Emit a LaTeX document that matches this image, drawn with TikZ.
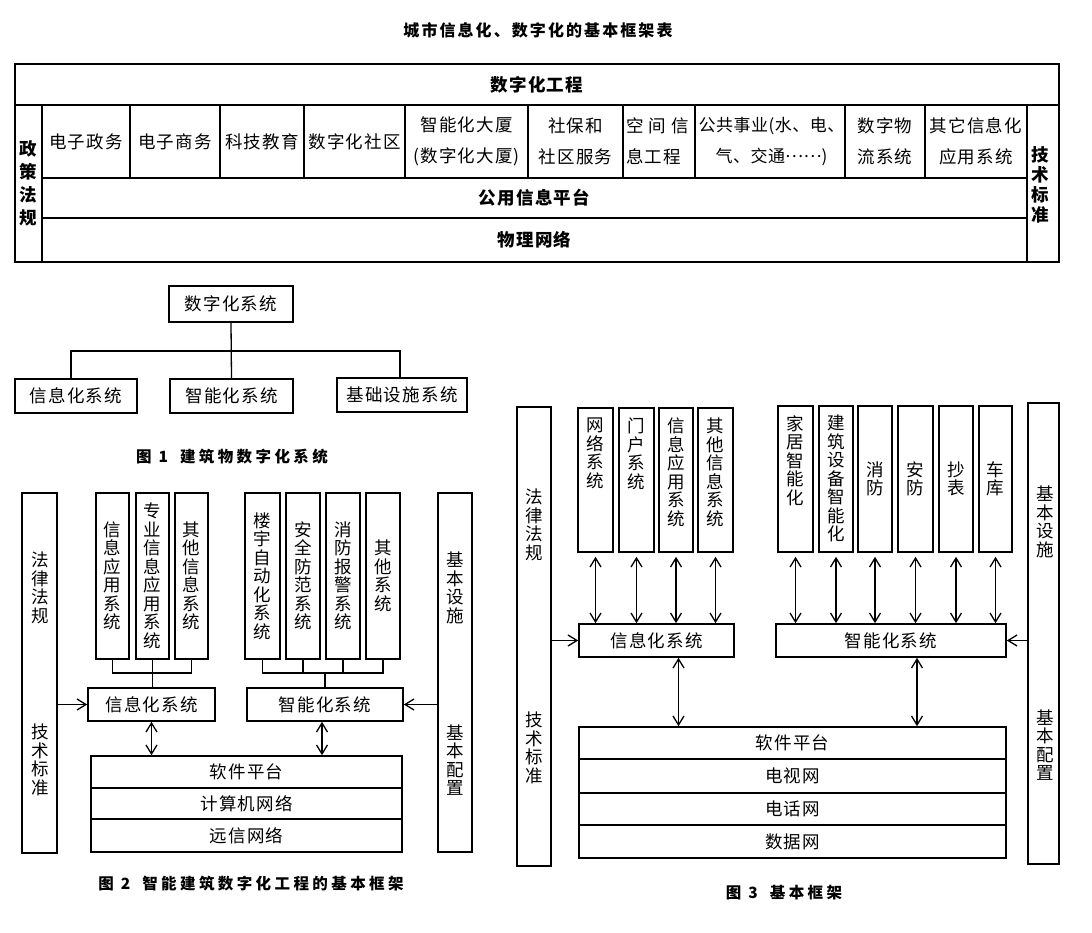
\documentclass[tikz,border=0pt]{standalone}
\usepackage{fontspec}
\usetikzlibrary{arrows.meta}
\newfontfamily\cjk[LetterSpace=7]{Noto Sans CJK SC}
\newfontfamily\cjktight[LetterSpace=3]{Noto Sans CJK SC}
\newfontfamily\cjkttl[LetterSpace=13]{Noto Sans CJK SC}
\newfontfamily\cjkcap[LetterSpace=22]{Noto Sans CJK SC}
\newcommand\bodystyle{\cjk\fontsize{17.5}{18.5}\selectfont}
\newcommand\cellstyle{\cjk\fontsize{17.5}{31}\selectfont}
\newcommand\headstyle{\cjk\bfseries\fontsize{17.5}{18.5}\selectfont}
\newcommand\titlestyle{\cjkttl\bfseries\fontsize{16}{18}\selectfont}
\newcommand\capstyle{\cjkcap\bfseries\fontsize{15.5}{18}\selectfont}
% box from corner (#2,#3) to corner (#4,#5), in pixels of the page
\newcommand\sysbox[6]{
  \node[box, minimum width={#4-#2}, minimum height={#5-#3}] (#1) at ({(#2+#4)/2}, {(#3+#5)/2}) {#6} ;
}
\tikzset{
  box/.style={draw, line width=1.6pt, inner sep=0pt, align=center, font=\bodystyle},
  vtext/.style={inner sep=0pt, align=center, font=\bodystyle},
  cell/.style={inner sep=0pt, align=center, font=\cellstyle},
  tblout/.style={line width=2.2pt},
  tblin/.style={line width=1.3pt},
  link/.style={line width=1.3pt},
  >={Straight Barb[length=9pt,width=11pt]},
}
\begin{document}
\begin{tikzpicture}[x=1pt, y=-1pt]
    \useasboundingbox (0,0) rectangle (1092,933) ;
    \node[font=\titlestyle] (title) at (538,30) {城市信息化、数字化的基本框架表} ;
    % table
    \draw[tblout] (15,64) rectangle (1059,262) ;
    \draw[tblin] (15,105) -- (1059,105) (42,105) -- (42,262) (1027,105) -- (1027,262) ;
    \draw[tblin] (42,178) -- (1027,178) (42,218) -- (1027,218) ;
    \foreach \xs in {130,220,304,405,528,623,695,845,925}
      \draw[tblin] (\xs,105) -- (\xs,178) ;
    \node[font=\headstyle] (proj) at (537,85) {数字化工程} ;
    \foreach \cx/\txt [count=\i] in {86/电子政务, 175/电子商务, 262/科技教育, 354.5/数字化社区,
        466.5/{智能化大厦\\(数字化大厦)}, 575.5/{社保和\\社区服务},
        885/{数字物\\流系统}, 976/{其它信息化\\应用系统}}
      \node[cell] (cell\i) at (\cx,141.5) {\txt} ;
    \node[cell, align=left, anchor=west] (space) at (626,141.5) {空\hspace{5pt}间\hspace{5pt}信\\息工程} ;
    \node[cell, font={\cjktight\fontsize{17}{31}\selectfont}] (utility) at (771.5,141.5) {公共事业(水、电、\\气、交通\raisebox{0.3em}{……})} ;
    \node[font=\headstyle] (pub) at (534.5,198) {公用信息平台} ;
    \node[font=\headstyle] (phy) at (534.5,240) {物理网络} ;
    \node[align=center, inner sep=0pt, font={\cjk\bfseries\fontsize{17.5}{23}\selectfont}] (policy) at (28.5,183) {政\\策\\法\\规} ;
    \node[align=center, inner sep=0pt, font={\cjk\bfseries\fontsize{17.5}{20}\selectfont}] (tech) at (1040,185) {技\\术\\标\\准} ;
    % figure 1
    \sysbox{dsys}{169}{286}{293}{322}{数字化系统}
    \sysbox{isys}{15}{379}{137}{413}{信息化系统}
    \sysbox{zsys}{170}{379}{293}{413}{智能化系统}
    \sysbox{jsys}{337}{378}{467}{412}{基础设施系统}
    \coordinate (bus1) at (231,351) ;
    \draw[link] (dsys.south) -- (zsys.north) ;
    \draw[link] ([xshift=-5pt]isys.north) |- (bus1) -| ([xshift=-2pt]jsys.north) ;
    \node[font=\capstyle] (cap1) at (232,457) {图 1\hspace{12pt}建筑物数字化系统} ;
    % figure 2
    \sysbox{lawA}{22}{493}{57}{853}{}
    \node[vtext] (lawAt) at (40,588) {法\\律\\法\\规} ;
    \node[vtext] (stdAt) at (40,760) {技\\术\\标\\准} ;
    \sysbox{baseA}{438}{493}{472}{852}{}
    \node[vtext] (facAt) at (455,588) {基\\本\\设\\施} ;
    \node[vtext] (cfgAt) at (455,760) {基\\本\\配\\置} ;
    \sysbox{ia1}{96}{493}{129}{659}{信\\息\\应\\用\\系\\统}
    \sysbox{ia2}{136}{493}{169}{659}{专\\业\\信\\息\\应\\用\\系\\统}
    \sysbox{ia3}{175}{493}{208}{659}{其\\他\\信\\息\\系\\统}
    \sysbox{ib1}{245}{493}{280}{659}{楼\\宇\\自\\动\\化\\系\\统}
    \sysbox{ib2}{286}{493}{320}{659}{安\\全\\防\\范\\系\\统}
    \sysbox{ib3}{326}{493}{360}{659}{消\\防\\报\\警\\系\\统}
    \sysbox{ib4}{366}{493}{400}{659}{其\\他\\系\\统}
    \sysbox{infoA}{88}{688}{215}{721}{信息化系统}
    \sysbox{intA}{247}{688}{403}{721}{智能化系统}
    \sysbox{swA}{91}{756}{402}{788}{软件平台}
    \sysbox{cnA}{91}{788}{402}{819}{计算机网络}
    \sysbox{rnA}{91}{819}{402}{852}{远信网络}
    \coordinate (busA) at (152.5,673) ;
    \coordinate (busB) at (325,673) ;
    \draw[link] (ia1.south) |- (busA) -| (ia3.south) ;
    \draw[link] (ia2.south) -- (ia2.south |- infoA.north) ;
    \draw[link] (ib1.south) |- (busB) -| (ib4.south) ;
    \draw[link] (ib2.south) -- (ib2.south |- busB) ;
    \draw[link] (ib3.south) -- (ib3.south |- busB) ;
    \draw[link] (busB) -- (intA.north) ;
    \draw[link, ->] (lawA.east |- infoA.west) -- (infoA.west) ;
    \draw[link, ->] (baseA.west |- intA.east) -- (intA.east) ;
    \draw[link, <->] (infoA.south) -- (infoA.south |- swA.north) ;
    \draw[link, <->] ([xshift=-3pt]intA.south) -- ([xshift=-3pt]intA.south |- swA.north) ;
    \node[font=\capstyle] (cap2) at (251,884) {图 2\hspace{12pt}智能建筑数字化工程的基本框架} ;
    % figure 3
    \sysbox{lawB}{517}{407}{551}{866}{}
    \node[vtext] (lawBt) at (534,525) {法\\律\\法\\规} ;
    \node[vtext] (stdBt) at (534,748) {技\\术\\标\\准} ;
    \sysbox{baseB}{1028}{403}{1059}{864}{}
    \node[vtext] (facBt) at (1045,522) {基\\本\\设\\施} ;
    \node[vtext] (cfgBt) at (1045,745) {基\\本\\配\\置} ;
    \sysbox{na1}{578}{408}{613}{552}{}
    \sysbox{na2}{619}{408}{654}{552}{}
    \sysbox{na3}{659}{408}{693}{552}{}
    \sysbox{na4}{698}{408}{733}{552}{}
    \node[vtext, anchor=north] (na1t) at (na1.north |- 0,418) {网\\络\\系\\统} ;
    \node[vtext, anchor=north] (na2t) at (na2.north |- 0,418) {门\\户\\系\\统} ;
    \node[vtext, anchor=north] (na3t) at (na3.north |- 0,418) {信\\息\\应\\用\\系\\统} ;
    \node[vtext, anchor=north] (na4t) at (na4.north |- 0,418) {其\\他\\信\\息\\系\\统} ;
    \sysbox{nb1}{778}{406}{813}{552}{}
    \sysbox{nb2}{819}{406}{853}{552}{}
    \sysbox{nb3}{858}{406}{892}{552}{消\\防}
    \sysbox{nb4}{898}{406}{933}{552}{安\\防}
    \sysbox{nb5}{939}{406}{973}{552}{抄\\表}
    \sysbox{nb6}{979}{406}{1012}{552}{车\\库}
    \node[vtext, anchor=north] (nb1t) at (nb1.north |- 0,415) {家\\居\\智\\能\\化} ;
    \node[vtext, anchor=north] (nb2t) at (nb2.north |- 0,415) {建\\筑\\设\\备\\智\\能\\化} ;
    \sysbox{infoB}{579}{624}{734}{657}{信息化系统}
    \sysbox{intB}{776}{624}{1006}{657}{智能化系统}
    \sysbox{swB}{579}{727}{1006}{759}{软件平台}
    \sysbox{tvB}{579}{759}{1006}{793}{电视网}
    \sysbox{telB}{579}{793}{1006}{825}{电话网}
    \sysbox{datB}{579}{825}{1006}{858}{数据网}
    \foreach \n in {na1,na2,na3,na4}
      \draw[link, <->, shorten <=4pt] (\n.south) -- (\n.south |- infoB.north) ;
    \foreach \n in {nb1,nb2,nb3,nb4,nb5,nb6}
      \draw[link, <->, shorten <=4pt] (\n.south) -- (\n.south |- intB.north) ;
    \draw[link, ->] (lawB.east |- infoB.west) -- (infoB.west) ;
    \draw[link, ->] (baseB.west |- intB.east) -- (intB.east) ;
    \draw[link, <->] ([xshift=22pt]infoB.south) -- ([xshift=22pt]infoB.south |- swB.north) ;
    \draw[link, <->] ([xshift=26pt]intB.south) -- ([xshift=26pt]intB.south |- swB.north) ;
    \node[font=\capstyle] (cap3) at (784,893) {图 3\hspace{12pt}基本框架} ;
\end{tikzpicture}
\end{document}
